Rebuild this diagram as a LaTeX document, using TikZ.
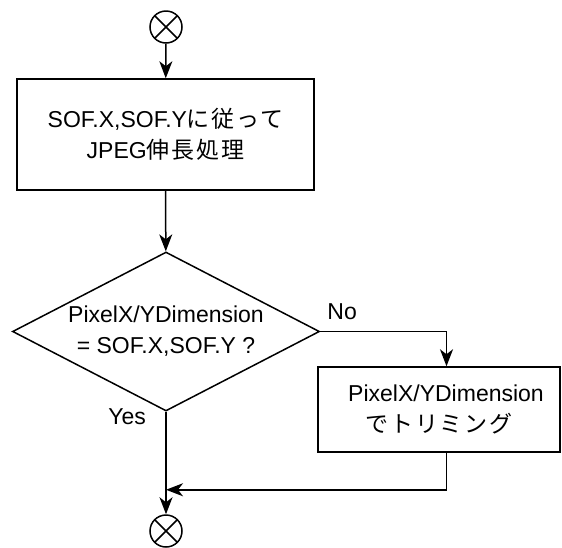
\documentclass[tikz,border=0pt]{standalone}
\usepackage{fontspec}
\setmainfont{Liberation Sans}
\newfontfamily\jpfont[LetterSpace=8]{Noto Sans CJK JP}
\usetikzlibrary{arrows.meta,calc,positioning,shapes.geometric}
\tikzset{
	flow/.style={line width=1.5pt},
	arr/.style={flow, -{Stealth[length=17pt, width=13pt, inset=5pt]}},
	procbox/.style={draw, line width=1.5pt, rectangle, align=center, inner sep=0pt},
	decbox/.style={draw, line width=1.5pt, diamond, aspect=1.93, align=center, inner sep=0pt,
		minimum width=307pt, minimum height=159pt},
	junct/.style={draw, line width=1.5pt, circle, minimum size=32pt, inner sep=0pt,
		path picture={\draw[line width=1.5pt]
			(path picture bounding box.north west) -- (path picture bounding box.south east)
			(path picture bounding box.north east) -- (path picture bounding box.south west);}},
	tag/.style={inner sep=0pt}
}

\begin{document}
\begin{tikzpicture}[x=1pt, y=-1pt, font=\fontsize{23}{31}\selectfont]
			%%%%% START %%%%%
			\useasboundingbox (0, 0) rectangle (562, 547);
			
			\node[junct] (start) at (166, 27) {};
			\node[procbox, minimum width=297pt, minimum height=111pt] (sof) at (165.5, 134.5)
				{SOF.X,SOF.Y{\jpfont に従って}\\JPEG{\jpfont 伸長処理}};
			\node[decbox] (dec) at (166, 331.5) {PixelX/YDimension\\= SOF.X,SOF.Y ?};
			\node[procbox, minimum width=242pt, minimum height=85pt] (trim) at (439, 409.5)
				{\hspace*{14pt}PixelX/YDimension\\{\jpfont でトリミング}};
			\node[junct] (stop) at (166, 531) {};
			
			\node[tag, anchor=south west] (no) at ($(dec.east)+(7, -12)$) {No};
			\node[tag, anchor=east] (yes) at ($(dec.south)+(-20, 5)$) {Yes};
			
			\coordinate (trimin) at ($(trim.north)+(7.5, 0)$);
			\coordinate (trimout) at ($(trim.south)+(7.5, 0)$);
			\coordinate (merge) at ($(dec.south)+(0, 78)$);
			
			\draw[arr] (start) -- (sof);
			\draw[arr] (sof) -- (dec);
			\draw[arr] (dec.east) -| (trimin);
			\draw[arr] (trimout) |- (merge);
			\draw[arr] (dec.south) -- (stop);
			%%%%% END %%%%%
\end{tikzpicture}
\end{document}
